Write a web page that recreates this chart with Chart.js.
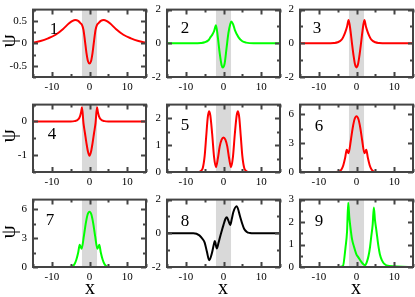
<!DOCTYPE html>
<html>
<head>
<meta charset="utf-8">
<script src="https://cdn.jsdelivr.net/npm/chart.js@4"></script>
<style>
  body { margin: 0; width: 415px; height: 297px; background: #fff; position: relative; overflow: hidden; font-family: "Liberation Serif", serif; }
  canvas { position: absolute; }
  .lab { position: absolute; line-height: 1; color: #000; transform: translate(-50%, -50%); }
  .psi { font-size: 21px; transform: translate(-50%, -50%) rotate(-90deg); }
  .xl { font-size: 20px; }
</style>
</head>
<body>
<script>
// shared axis settings
const xLimits = [-15, 15];
const xTickLabels = [-10, 0, 10];
const band = [-2, 2];

// panel 1
const x1 = [-15, -13, -11, -9, -7, -5.5, -4.5, -3.8, -3, -2.3, -2, -1.6, -1.2, -0.8, -0.4, 0, 0.4, 0.8, 1.2, 1.6, 2, 2.3, 3, 3.8, 4.5, 5.5, 7, 9, 11, 13, 15];
const psi1 = [0.01, 0.05, 0.11, 0.19, 0.32, 0.44, 0.5, 0.52, 0.5, 0.44, 0.41, 0.3, 0.05, -0.22, -0.4, -0.45, -0.4, -0.22, 0.05, 0.3, 0.41, 0.44, 0.5, 0.52, 0.5, 0.44, 0.32, 0.19, 0.11, 0.05, 0.01];

// panel 2
const x2 = [-15, -8, -6, -5, -4, -3.4, -3, -2.5, -2, -1.5, -1, -0.5, -0.2, 0.3, 0.8, 1.3, 1.8, 2.1, 2.6, 3, 4, 5, 6, 8, 15];
const psi2 = [0, 0, 0.02, 0.06, 0.18, 0.38, 0.5, 0.72, 1.07, 0.35, -0.6, -1.3, -1.43, -1.2, -0.3, 0.6, 1.15, 1.3, 1.1, 0.8, 0.35, 0.12, 0.04, 0, 0];

// panel 3
const x3 = [-15, -8, -6, -5, -4, -3.5, -3, -2.5, -2.1, -1.6, -1.2, -0.8, -0.4, 0, 0.4, 0.8, 1.2, 1.6, 2.1, 2.5, 3, 3.5, 4, 5, 6, 8, 15];
const psi3 = [0, 0, 0.02, 0.06, 0.2, 0.38, 0.65, 1.0, 1.38, 0.75, 0.0, -0.7, -1.25, -1.43, -1.25, -0.7, 0.0, 0.75, 1.38, 1.0, 0.65, 0.38, 0.2, 0.06, 0.02, 0, 0];

// panel 4
const x4 = [-15, -5, -4, -3, -2.5, -2.2, -2, -1.6, -1.2, -0.8, -0.4, 0, 0.4, 0.8, 1.2, 1.6, 2, 2.2, 2.5, 3, 4, 5, 15];
const psi4 = [0, 0, 0.01, 0.06, 0.16, 0.3, 0.42, -0.05, -0.35, -0.65, -0.9, -1.02, -0.9, -0.65, -0.35, -0.05, 0.42, 0.3, 0.16, 0.06, 0.01, 0, 0];

// panel 5
const x5 = [-15, -7, -6, -5.5, -5, -4.6, -4.2, -3.85, -3.5, -3, -2.5, -2, -1.5, -1, -0.5, 0, 0.5, 1, 1.5, 2, 2.5, 3, 3.5, 3.85, 4.2, 4.6, 5, 5.5, 6, 7, 15];
const psi5 = [0, 0, 0.04, 0.15, 0.6, 1.3, 2.0, 2.25, 2.1, 1.4, 0.55, 0.18, 0.5, 0.95, 1.2, 1.28, 1.2, 0.95, 0.5, 0.18, 0.55, 1.4, 2.1, 2.25, 2.0, 1.3, 0.6, 0.15, 0.04, 0, 0];

// panel 6
const x6 = [-15, -6, -5, -4.5, -4, -3.5, -3, -2.6, -2.1, -1.5, -1, -0.5, 0, 0.5, 1, 1.5, 2.1, 2.6, 3, 3.5, 4, 4.5, 5, 6, 15];
const psi6 = [0, 0, 0.02, 0.07, 0.25, 0.7, 1.5, 2.3, 1.95, 3.3, 4.6, 5.5, 5.8, 5.5, 4.6, 3.3, 1.95, 2.3, 1.5, 0.7, 0.25, 0.07, 0.02, 0, 0];

// panel 7
const x7 = [-15, -6, -5, -4.5, -4, -3.5, -3, -2.6, -2.1, -1.5, -1, -0.5, 0, 0.5, 1, 1.5, 2.1, 2.6, 3, 3.5, 4, 4.5, 5, 6, 15];
const psi7 = [0, 0, 0.02, 0.08, 0.28, 0.75, 1.5, 2.3, 1.9, 3.2, 4.5, 5.45, 5.75, 5.45, 4.5, 3.2, 1.9, 2.3, 1.5, 0.75, 0.28, 0.08, 0.02, 0, 0];

// panel 8
const x8 = [-15, -8, -6.4, -5.5, -5, -4.4, -3.8, -3.1, -2.6, -2.3, -1.8, -1.3, -0.9, -0.4, 0, 0.5, 0.9, 1.3, 1.8, 2.2, 2.6, 3.5, 4.4, 5, 5.5, 6.2, 7, 8, 15];
const psi8 = [0, 0, -0.12, -0.35, -0.55, -1.1, -1.6, -1.2, -0.7, -0.45, -0.9, -0.55, -0.2, 0.2, 0.5, 0.85, 0.95, 0.75, 0.5, 0.85, 1.25, 1.6, 1.0, 0.55, 0.25, 0.08, 0.02, 0, 0];

// panel 9
const x9 = [-15, -5, -4.2, -3.6, -2.9, -2.5, -2.2, -1.9, -1.6, -1.2, -0.7, 0, 0.5, 1.2, 1.9, 2.3, 2.8, 3.2, 3.6, 3.9, 4.3, 4.6, 4.9, 5.3, 5.8, 6.2, 6.8, 7.3, 8.7, 15];
const psi9 = [0, 0, 0.01, 0.04, 0.9, 1.6, 2.86, 2.2, 1.75, 1.25, 0.92, 0.55, 0.43, 0.25, 0.11, 0.08, 0.25, 0.5, 0.9, 1.33, 1.9, 2.65, 2.1, 1.6, 0.95, 0.57, 0.28, 0.15, 0.04, 0];

// y axes: [min, max, minor step], major labels
const yAxis1 = [-0.75, 0.75, 0.25], yLabels1 = [-0.5, 0, 0.5];
const yAxis2 = [-2, 2, 1], yLabels2 = [-2, 0, 2];
const yAxis3 = [-2, 2, 1], yLabels3 = [-2, 0, 2];
const yAxis4 = [-1.5, 0.5, 0.5], yLabels4 = [-1, 0];
const yAxis5 = [0, 2.5, 0.5], yLabels5 = [0, 1, 2];
const yAxis6 = [0, 7, 1.5], yLabels6 = [0, 3, 6];
const yAxis7 = [0, 7, 1.5], yLabels7 = [0, 3, 6];
const yAxis8 = [-2, 2, 1], yLabels8 = [-2, 0, 2];
const yAxis9 = [0, 3, 0.5], yLabels9 = [0, 1, 2, 3];

const RED = '#ff0000', GREEN = '#00ff00', BLACK = '#000000';

const panels = [
  { x: x1, y: psi1, color: RED, ax: yAxis1, lab: yLabels1, tag: '1', tagPos: [21, 20] },
  { x: x2, y: psi2, color: GREEN, ax: yAxis2, lab: yLabels2, tag: '2', tagPos: [18, 19] },
  { x: x3, y: psi3, color: RED, ax: yAxis3, lab: yLabels3, tag: '3', tagPos: [17, 19] },
  { x: x4, y: psi4, color: RED, ax: yAxis4, lab: yLabels4, tag: '4', tagPos: [19, 30] },
  { x: x5, y: psi5, color: RED, ax: yAxis5, lab: yLabels5, tag: '5', tagPos: [18, 21] },
  { x: x6, y: psi6, color: RED, ax: yAxis6, lab: yLabels6, tag: '6', tagPos: [19, 22] },
  { x: x7, y: psi7, color: GREEN, ax: yAxis7, lab: yLabels7, tag: '7', tagPos: [17, 21] },
  { x: x8, y: psi8, color: BLACK, ax: yAxis8, lab: yLabels8, tag: '8', tagPos: [18, 22] },
  { x: x9, y: psi9, color: GREEN, ax: yAxis9, lab: yLabels9, tag: '9', tagPos: [19, 22] },
];

// page layout of the plot areas
const colLeft = [33, 167, 300];
const rowTop = [5, 100, 195];
const plotW = 113, plotH = 72;
const padL = 33, padT = 8, padR = 4, padB = 22;

const near = (list, v) => list.some(t => Math.abs(t - v) < 1e-6);
const fmt = v => String(Math.round(v * 100) / 100);

const framePlugin = {
  id: 'frame',
  beforeDatasetsDraw(chart) {
    const { ctx, chartArea: a, scales: { x } } = chart;
    const l = x.getPixelForValue(band[0]), r = x.getPixelForValue(band[1]);
    ctx.save();
    ctx.fillStyle = '#d9d9d9';
    ctx.fillRect(l, a.top, r - l, a.bottom - a.top);
    ctx.restore();
  },
  afterDatasetsDraw(chart, args, opts) {
    const { ctx, chartArea: a, scales: { x, y } } = chart;
    const p = opts.panel;
    ctx.save();
    ctx.strokeStyle = '#444';
    ctx.lineWidth = 2;
    ctx.beginPath();
    for (let v = xLimits[0]; v <= xLimits[1] + 1e-9; v += 5) {
      const px = Math.round(x.getPixelForValue(v)) + 0.5;
      const len = near(xTickLabels, v) ? 5 : 3;
      ctx.moveTo(px, a.bottom); ctx.lineTo(px, a.bottom - len);
      ctx.moveTo(px, a.top); ctx.lineTo(px, a.top + len);
    }
    for (let v = p.ax[0]; v <= p.ax[1] + 1e-9; v += p.ax[2]) {
      const py = Math.round(y.getPixelForValue(v)) + 0.5;
      const len = near(p.lab, v) ? 5 : 3;
      ctx.moveTo(a.left, py); ctx.lineTo(a.left + len, py);
      ctx.moveTo(a.right, py); ctx.lineTo(a.right - len, py);
    }
    ctx.stroke();
    ctx.strokeRect(a.left, a.top, a.right - a.left, a.bottom - a.top);
    ctx.fillStyle = '#000';
    ctx.font = '17px "Liberation Serif", serif';
    ctx.textAlign = 'center';
    ctx.textBaseline = 'middle';
    ctx.fillText(p.tag, a.left + p.tagPos[0], a.top + p.tagPos[1]);
    ctx.restore();
  }
};

panels.forEach((p, i) => {
  const col = i % 3, row = Math.floor(i / 3);
  const cv = document.createElement('canvas');
  const w = plotW + padL + padR, h = plotH + padT + padB;
  cv.width = w; cv.height = h;
  cv.style.left = (colLeft[col] - padL) + 'px';
  cv.style.top = (rowTop[row] - padT) + 'px';
  cv.style.width = w + 'px'; cv.style.height = h + 'px';
  document.body.appendChild(cv);

  new Chart(cv.getContext('2d'), {
    type: 'line',
    data: {
      datasets: [{
        data: p.x.map((xv, k) => ({ x: xv, y: p.y[k] })),
        borderColor: p.color,
        borderWidth: 2,
        pointRadius: 0,
        cubicInterpolationMode: 'monotone',
        fill: false,
      }]
    },
    options: {
      responsive: false,
      animation: false,
      devicePixelRatio: 1,
      layout: { padding: { left: 0, top: padT, right: padR, bottom: 0 } },
      plugins: { legend: { display: false }, tooltip: { enabled: false }, frame: { panel: p } },
      scales: {
        x: {
          type: 'linear', min: xLimits[0], max: xLimits[1],
          grid: { display: false, drawTicks: false }, border: { display: false },
          afterBuildTicks: s => { s.ticks = xTickLabels.map(v => ({ value: v })); },
          afterFit: s => { s.height = padB; },
          ticks: { padding: 4, color: '#000', font: { family: '"Liberation Serif", serif', size: 11 }, callback: v => fmt(v) }
        },
        y: {
          min: p.ax[0], max: p.ax[1],
          grid: { display: false, drawTicks: false }, border: { display: false },
          afterBuildTicks: s => { s.ticks = p.lab.map(v => ({ value: v })); },
          afterFit: s => { s.width = padL; },
          ticks: { padding: 6, color: '#000', font: { family: '"Liberation Serif", serif', size: 11 }, callback: v => fmt(v) }
        }
      }
    },
    plugins: [framePlugin]
  });
});

// axis titles
const rowMid = [41, 136, 232];
rowMid.forEach(yc => {
  const d = document.createElement('div');
  d.className = 'lab psi'; d.textContent = 'ψ';
  d.style.left = '8px'; d.style.top = yc + 'px';
  document.body.appendChild(d);
});
const colMid = [90, 223, 356];
colMid.forEach(xc => {
  const d = document.createElement('div');
  d.className = 'lab xl'; d.textContent = 'x';
  d.style.left = xc + 'px'; d.style.top = '287px';
  document.body.appendChild(d);
});
</script>
</body>
</html>
